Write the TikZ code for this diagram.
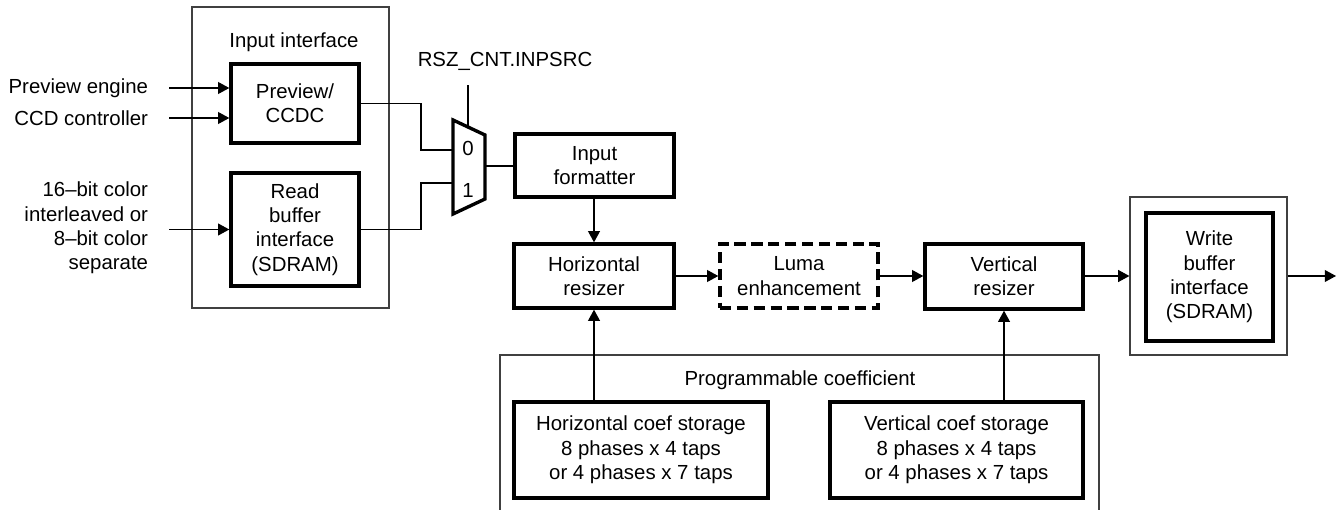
\documentclass[tikz,border=0pt]{standalone}
\usepackage{fontspec}
\setmainfont{Liberation Sans}
\usetikzlibrary{arrows.meta}

\tikzset{
  blk/.style={draw, line width=2.4pt, align=center, inner sep=2pt},
  frame/.style={draw=black!75, line width=0.8pt},
  wire/.style={line width=0.8pt},
  arr/.style={wire, -{Triangle[length=8pt,width=8.5pt]}},
}

\begin{document}
\begin{tikzpicture}[x=0.025cm, y=-0.025cm, font=\fontsize{14.5}{17.3}\selectfont]
    \useasboundingbox (0,0) rectangle (1338,510);

    % Input interface
    \node[frame, minimum width=4.925cm, minimum height=7.525cm] (inif) at (290.5,157.5) {};
    \node (iniflbl) at (294,42) {Input interface};
    \node[blk, minimum width=3.2cm, minimum height=1.975cm] (prev) at (295,103.5) {Preview/\\CCDC};
    \node[blk, minimum width=3.2cm, minimum height=2.825cm] (rdbuf) at (295,229.5) {Read\\buffer\\interface\\(SDRAM)};

    % Sources
    \node[anchor=east] (pe) at (153,88) {Preview engine};
    \node[anchor=east] (ccd) at (153,118) {CCD controller};
    \node[anchor=east, align=right] (mem) at (153,228) {16--bit color\\interleaved or\\8--bit color\\separate};
    \draw[arr] ([xshift=0.4cm]pe.east) -- (pe.east -| prev.west);
    \draw[arr] ([xshift=0.4cm]ccd.east) -- (ccd.east -| prev.west);
    \draw[arr] ([xshift=0.4cm]mem.east |- rdbuf) -- (rdbuf.west);

    % Mux
    \draw[line width=2.4pt, line join=miter] (453,120) -- (485,135) -- (485,199) -- (453,214) -- cycle;
    \coordinate (mux0) at (453,150);
    \coordinate (mux1) at (453,183);
    \coordinate (muxo) at (485,166);
    \coordinate (muxc) at (468,127);
    \coordinate (jn) at (421,0);
    \node (m0) at (468,148) {0};
    \node (m1) at (468,190) {1};
    \node (sel) at (505,61) {RSZ\_CNT.INPSRC};
    \draw[wire] ([yshift=-0.25cm]sel.south -| muxc) -- (muxc);
    \draw[wire] (prev.east) -- (prev.east -| jn) |- (mux0);
    \draw[wire] (rdbuf.east) -- (rdbuf.east -| jn) |- (mux1);

    % Resizer chain
    \node[blk, minimum width=3.975cm, minimum height=1.575cm] (infmt) at (594.5,165.5) {Input\\formatter};
    \node[blk, minimum width=4cm, minimum height=1.6cm] (hres) at (594,276) {Horizontal\\resizer};
    \node[blk, dash pattern=on 8pt off 4pt, minimum width=3.95cm, minimum height=1.6cm] (luma) at (799,276) {Luma\\enhancement};
    \node[blk, minimum width=3.95cm, minimum height=1.625cm] (vres) at (1004,276.5) {Vertical\\resizer};
    \draw[wire] (muxo) -- (muxo -| infmt.west);
    \draw[arr] (infmt.south -| hres.north) -- (hres.north);
    \draw[arr] (hres.east) -- (luma.west);
    \draw[arr] (luma.east) -- (vres.west |- luma.east);

    % Write buffer
    \node[frame, minimum width=3.925cm, minimum height=3.95cm] (wbout) at (1208.5,276) {};
    \node[blk, minimum width=3.175cm, minimum height=3.2cm] (wbuf) at (1209.5,277) {Write\\buffer\\interface\\(SDRAM)};
    \coordinate (out) at (1336,276);
    \draw[arr] (vres.east |- wbout.west) -- (wbout.west);
    \draw[arr] (wbout.east) -- (out);

    % Programmable coefficient
    \draw[frame] (500,510) |- (1099,355) -- (1099,510);
    \node (pclbl) at (800,380) {Programmable coefficient};
    \node[blk, minimum width=6.35cm, minimum height=2.4cm] (hcoef) at (641,450) {Horizontal coef storage\\8 phases x 4 taps\\or 4 phases x 7 taps};
    \node[blk, minimum width=6.325cm, minimum height=2.4cm] (vcoef) at (956.5,450) {Vertical coef storage\\8 phases x 4 taps\\or 4 phases x 7 taps};
    \draw[arr] (hcoef.north -| hres.south) -- (hres.south);
    \draw[arr] (vcoef.north -| vres.south) -- (vres.south);
\end{tikzpicture}
\end{document}
